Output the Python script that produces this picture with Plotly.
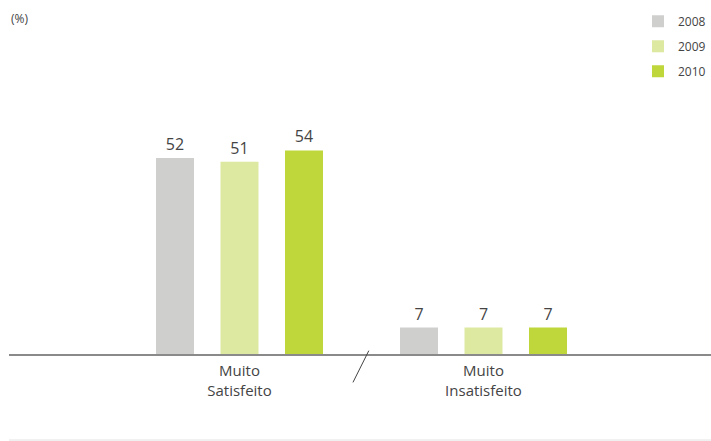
import plotly.graph_objects as go

categories = ["Muito<br>Satisfeito", "Muito<br>Insatisfeito"]
years = ["2008", "2009", "2010"]
values_2008 = [52, 7]
values_2009 = [51, 7]
values_2010 = [54, 7]
colors = ["#cfcfcd", "#dde8a1", "#bfd73b"]

series = [values_2008, values_2009, values_2010]

W, H = 711, 441
L, R, T, B = 9, 0, 20, 87
plot_w = W - L - R
plot_h = H - T - B
unit_px = 244.0
center_px = 239.5 - L

fig = go.Figure()
for i, (yr, vals, col) in enumerate(zip(years, series, colors)):
    fig.add_trace(go.Bar(
        x=categories, y=vals, name=yr,
        marker=dict(color=col, line=dict(width=0)),
        text=[str(v) for v in vals], textposition="outside",
        textfont=dict(size=16, color="#444444"),
        cliponaxis=False,
        legendgroup=yr,
        hoverinfo="skip",
    ))

fig.update_layout(
    width=W, height=H,
    margin=dict(l=L, r=R, t=T, b=B, autoexpand=False),
    paper_bgcolor="white", plot_bgcolor="white",
    barmode="group", bargap=0.207, bargroupgap=0.411,
    font=dict(family="Open Sans, DejaVu Sans, sans-serif", color="#444444", size=15),
    showlegend=True,
    legend=dict(x=1, y=1.04, xanchor="right", yanchor="top",
                traceorder="grouped", tracegroupgap=6,
                font=dict(size=12, color="#444444"),
                bgcolor="rgba(0,0,0,0)"),
    xaxis=dict(
        range=[-center_px / unit_px, (plot_w - center_px) / unit_px],
        showline=True, linecolor="#8a8a8a", linewidth=2,
        showgrid=False, zeroline=False, ticks="",
        tickfont=dict(size=15, color="#444444"),
        ticklabelstandoff=2,
        fixedrange=True,
    ),
    yaxis=dict(
        range=[0, plot_h / 3.77],
        visible=False, showgrid=False, zeroline=False, fixedrange=True,
    ),
)

fig.add_annotation(text="(%)", xref="paper", yref="paper", x=0, y=1 + 2 / plot_h,
                   xanchor="left", yanchor="middle", showarrow=False,
                   font=dict(size=12, color="#444444"))

# axis break slash between groups
fig.add_shape(type="line", xref="x", yref="paper",
              x0=0.5 - 0.035, x1=0.5 + 0.03, y0=-0.085, y1=0.01,
              line=dict(color="#444444", width=1))
# bottom divider line
y_div = -86 / plot_h
fig.add_shape(type="line", xref="paper", yref="paper",
              x0=0, x1=1, y0=y_div, y1=y_div,
              line=dict(color="#e2e2e2", width=1))

fig.write_html("out.html", config={"displayModeBar": False},
               post_script="document.body.style.margin='0px';document.body.style.overflow='hidden';")
